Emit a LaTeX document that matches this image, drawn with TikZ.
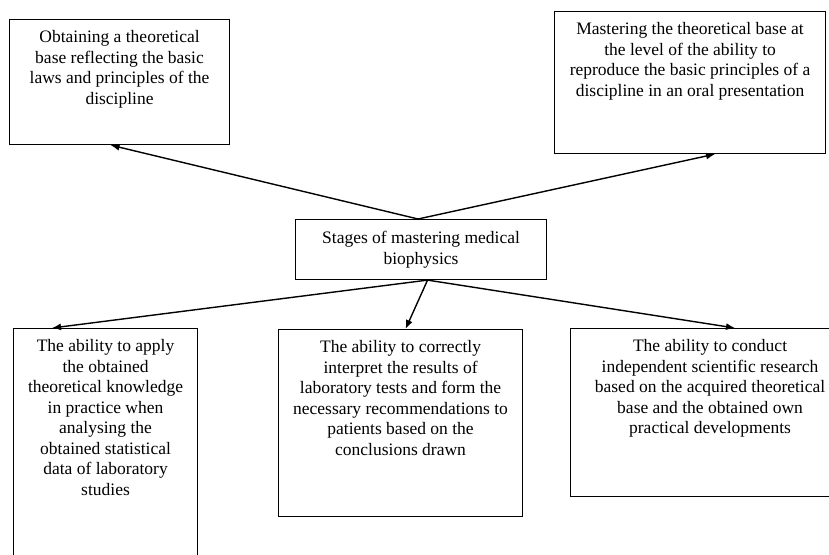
\documentclass[tikz,border=0pt]{standalone}
\usepackage{fontspec}
\setmainfont{Liberation Serif}
\usetikzlibrary{arrows.meta}
\newcommand{\boxtext}[3]{\parbox[t][#2][t]{#1}{\centering #3}}

\begin{document}
\begin{tikzpicture}[x=1pt, y=-1pt, >={Latex[length=9pt,width=7pt]},
    font=\fontsize{17.5}{20.5}\selectfont,
    stagebox/.style={draw, line width=1.1pt, inner xsep=0pt, inner ysep=11pt, anchor=north west},
    link/.style={->, line width=1.4pt}]
  \useasboundingbox (0,0) rectangle (829,554);
  \clip (0,0) rectangle (829,554);

  % centre
  \node[draw, line width=1.1pt, anchor=north west, minimum width=251pt, minimum height=60pt,
        inner sep=0pt, align=center] (stages) at (295,219)
        {Stages of mastering medical\\biophysics};

  % upper row
  \node[stagebox] (obtain) at (9,19) {\boxtext{220pt}{103pt}{Obtaining a theoretical\\
     base reflecting the basic\\laws and principles of the\\discipline}};
  \node[stagebox] (master) at (554,11) {\boxtext{271pt}{120pt}{Mastering the theoretical base at\\
     the level of the ability to\\reproduce the basic principles of a\\discipline in an oral presentation}};

  % lower row
  \node[stagebox] (apply) at (13,328) {\boxtext{184pt}{238pt}{The ability to apply\\
     the obtained\\theoretical knowledge\\in practice when\\analysing the\\
     obtained statistical\\data of laboratory\\studies}};
  \node[stagebox] (interpret) at (278,329) {\boxtext{244pt}{165pt}{The ability to correctly\\
     interpret the results of\\laboratory tests and form the\\necessary recommendations to\\
     patients based on the\\conclusions drawn}};
  \node[stagebox] (research) at (570,328) {\boxtext{279pt}{146pt}{The ability to conduct\\
     independent scientific research\\based on the acquired theoretical\\
     base and the obtained own\\practical developments}};

  \draw[link] ([xshift=-3pt]stages.north) -- ([xshift=-9pt]obtain.south);
  \draw[link] ([xshift=-3pt]stages.north) -- ([xshift=25pt]master.south);
  \draw[link] ([xshift=6.5pt]stages.south) -- ([xshift=39pt]apply.north west);
  \draw[link] ([xshift=6.5pt]stages.south) -- ([xshift=5pt]interpret.north);
  \draw[link] ([xshift=6.5pt]stages.south) -- ([xshift=165pt]research.north west);
\end{tikzpicture}
\end{document}
